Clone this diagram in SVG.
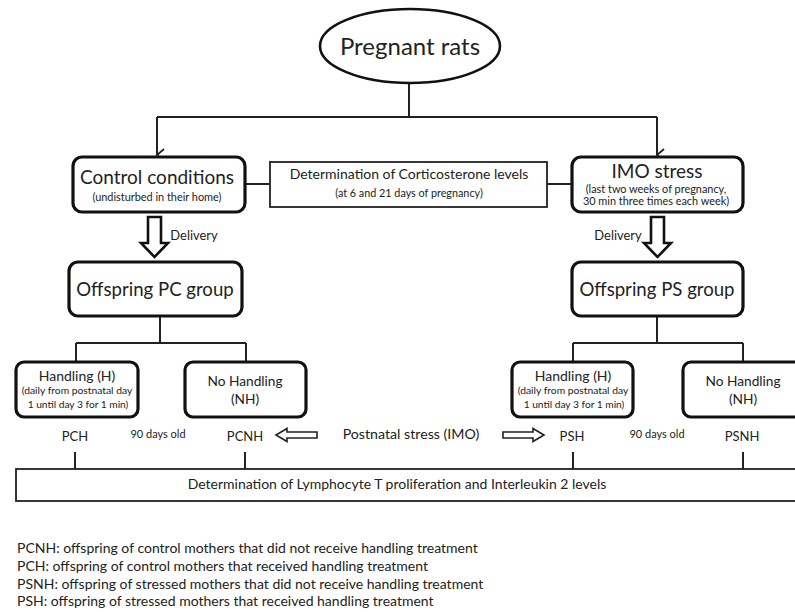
<svg xmlns="http://www.w3.org/2000/svg" width="795" height="612" viewBox="0 0 795 612">
<style>
text{font-family:Lato,"Liberation Sans",sans-serif;fill:#222;text-anchor:middle}
.box{fill:#fff;stroke:#111;stroke-width:3.2}
.thin{fill:#fff;stroke:#222;stroke-width:1.8}
.ln{fill:none;stroke:#222;stroke-width:2}
.blk{fill:#fff;stroke:#111;stroke-width:2.6;stroke-linejoin:miter}
.hol{fill:#fff;stroke:#222;stroke-width:1.6}
.lg{text-anchor:start;font-size:14px}
</style>
<defs>
<marker id="v" markerWidth="14" markerHeight="14" refX="7" refY="10" orient="auto" markerUnits="userSpaceOnUse" viewBox="0 0 14 14">
<path d="M1,3 L7,10 L13,3" fill="none" stroke="#222" stroke-width="1.8"/>
</marker>
</defs>
<g id="connectors">
<path class="ln" d="M409,83 V117"/>
<path class="ln" d="M157,117 H657"/>
<path class="ln" d="M157,117 V155" marker-end="url(#v)"/>
<path class="ln" d="M657,117 V155" marker-end="url(#v)"/>
<path class="ln" d="M245,184 H270"/>
<path class="ln" d="M547,184 H572"/>
<path class="blk" d="M148,217 H161 V243 H168 L154.5,257 L141,243 H148 Z"/>
<path class="blk" d="M651,217 H664 V243 H671 L657.5,257 L644,243 H651 Z"/>
<path class="ln" d="M160,316 V343 M76,343 H246 M76,343 V362 M246,343 V362"/>
<path class="ln" d="M657,316 V343 M573,343 H743 M573,343 V362 M743,343 V362"/>
<path class="hol" d="M317,432 H287 V428.5 L276,435 L287,441.5 V438 H317 Z"/>
<path class="hol" d="M503,432 H533 V428.5 L544,435 L533,441.5 V438 H503 Z"/>
<path class="ln" d="M75,452 V469 M245,452 V469 M573,452 V469 M743,452 V469"/>
</g>
<g id="pregnant">
<ellipse cx="410" cy="46" rx="90" ry="37" fill="#fff" stroke="#111" stroke-width="2.6"/>
<text x="410" y="55" font-size="24">Pregnant rats</text>
</g>
<g id="control">
<rect class="box" x="73" y="157" width="172" height="55" rx="9"/>
<text x="157" y="184" font-size="19">Control conditions</text>
<text x="157" y="201" font-size="10.9">(undisturbed in their home)</text>
</g>
<g id="cort">
<rect class="thin" x="270" y="162" width="277" height="45"/>
<text x="409" y="179" font-size="14">Determination of Corticosterone levels</text>
<text x="409" y="197" font-size="10.8">(at 6 and 21 days of pregnancy)</text>
</g>
<g id="imo">
<rect class="box" x="572" y="157" width="171" height="55" rx="9"/>
<text x="657" y="178" font-size="19">IMO stress</text>
<text x="656" y="193" font-size="10.9">(last two weeks of pregnancy,</text>
<text x="656" y="205" font-size="10.9">30 min  three times each week)</text>
</g>
<g id="delivery-labels">
<text x="194" y="240" font-size="12.9">Delivery</text>
<text x="618" y="240" font-size="12.9">Delivery</text>
</g>
<g id="pc">
<rect class="box" x="69" y="262" width="173" height="54" rx="9"/>
<text x="155" y="296" font-size="18.6">Offspring PC group</text>
</g>
<g id="ps">
<rect class="box" x="572" y="262" width="171" height="54" rx="9"/>
<text x="657" y="296" font-size="18.6">Offspring PS group</text>
</g>
<g id="pc-h">
<rect class="box" x="16" y="362" width="122" height="55" rx="8"/>
<text x="77" y="381" font-size="14">Handling (H)</text>
<text x="77" y="394" font-size="10.3">(daily from postnatal day</text>
<text x="78" y="408" font-size="10.2">1 until day 3 for 1 min)</text>
</g>
<g id="pc-nh">
<rect class="box" x="185" y="362" width="121" height="55" rx="8"/>
<text x="245" y="386" font-size="13.7">No Handling</text>
<text x="245" y="404" font-size="13.7">(NH)</text>
</g>
<g id="ps-h">
<rect class="box" x="512" y="362" width="121" height="55" rx="8"/>
<text x="573" y="381" font-size="14">Handling (H)</text>
<text x="573" y="394" font-size="10.3">(daily from postnatal day</text>
<text x="574" y="408" font-size="10.2">1 until day 3 for 1 min)</text>
</g>
<g id="ps-nh">
<rect class="box" x="683" y="362" width="121" height="55" rx="8"/>
<text x="743" y="386" font-size="13.7">No Handling</text>
<text x="743" y="404" font-size="13.7">(NH)</text>
</g>
<g id="group-labels">
<text x="75" y="441" font-size="13">PCH</text>
<text x="158" y="438" font-size="11">90 days old</text>
<text x="245" y="441" font-size="13">PCNH</text>
<text x="411" y="439" font-size="14.2">Postnatal stress (IMO)</text>
<text x="572" y="441" font-size="13">PSH</text>
<text x="657" y="438" font-size="11">90 days old</text>
<text x="742" y="441" font-size="13">PSNH</text>
</g>
<g id="lympho">
<rect class="thin" x="16" y="469" width="790" height="32"/>
<text x="397" y="489" font-size="14">Determination of Lymphocyte T proliferation and Interleukin 2 levels</text>
</g>
<g id="legend">
<text class="lg" x="17" y="553">PCNH: offspring of control mothers that did not receive handling treatment</text>
<text class="lg" x="17" y="571">PCH: offspring of control mothers that received handling treatment</text>
<text class="lg" x="17" y="589">PSNH: offspring of stressed mothers that did not receive handling treatment</text>
<text class="lg" x="17" y="606">PSH: offspring of stressed mothers that received handling treatment</text>
</g>
</svg>
